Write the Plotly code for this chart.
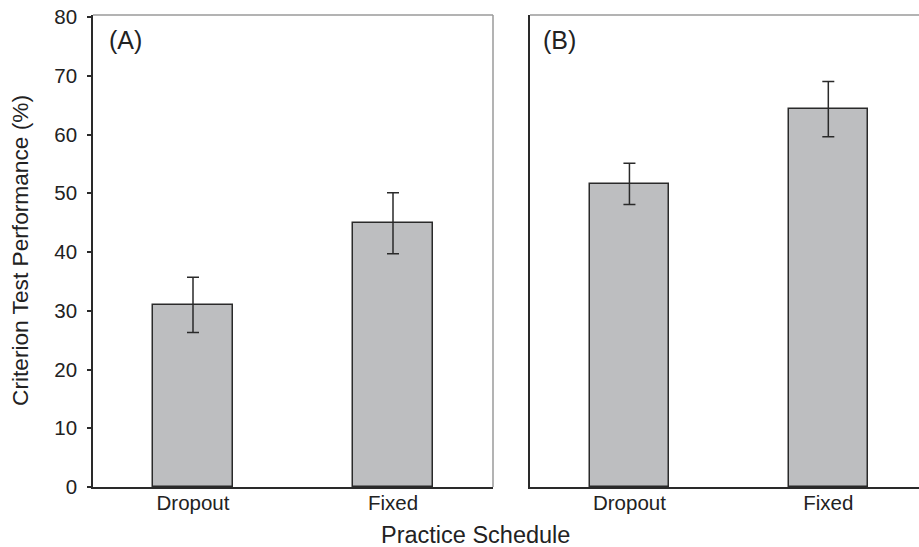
import plotly.graph_objects as go

# Criterion test performance by practice schedule, two experiments
categories = ["Dropout", "Fixed"]
panel_a_mean = [31.0, 44.9]
panel_a_err = [4.7, 5.2]
panel_b_mean = [51.6, 64.3]
panel_b_err = [3.5, 4.7]
y_ticks = [0, 10, 20, 30, 40, 50, 60, 70, 80]

BAR_FILL = "#bdbec0"
INK = "#2a2a2a"
FONT = "Liberation Sans, Arial, sans-serif"

W, H = 919, 547
ML, MR, MT, MB = 93, 0, 15, 60
plot_w = W - ML - MR
a_end = 400 / plot_w
b_start = 437 / plot_w

fig = go.Figure()

for mean, err, xa, ya in [(panel_a_mean, panel_a_err, "x", "y"),
                          (panel_b_mean, panel_b_err, "x2", "y2")]:
    fig.add_trace(go.Bar(
        x=categories, y=mean, xaxis=xa, yaxis=ya, width=0.4,
        marker=dict(color=BAR_FILL, line=dict(color=INK, width=1.5)),
        error_y=dict(type="data", array=err, visible=True,
                     color=INK, thickness=1.5, width=6),
        showlegend=False, hoverinfo="skip",
    ))

yrange = [0, 80.34]
common_x = dict(type="category", showgrid=False, zeroline=False,
                showline=True, linecolor=INK, linewidth=1.5, ticks="",
                ticklabelstandoff=-3,
                tickfont=dict(family=FONT, size=20.5, color="#222"))

fig.update_layout(
    width=W, height=H,
    margin=dict(l=ML, r=MR, t=MT, b=MB),
    paper_bgcolor="white", plot_bgcolor="white",
    bargap=0,
    xaxis=dict(domain=[0, a_end], range=[-0.5, 1.5], anchor="y", **common_x),
    xaxis2=dict(domain=[b_start, 1], range=[-0.5, 1.456], anchor="y2", **common_x),
    yaxis=dict(domain=[0, 1], range=yrange, anchor="x", tickvals=y_ticks,
               showgrid=False, zeroline=False, showline=True,
               linecolor=INK, linewidth=1.5, ticks="outside", ticklen=4,
               tickwidth=1.5, tickcolor=INK, ticklabelstandoff=6,
               tickfont=dict(family=FONT, size=20.5, color="#222")),
    yaxis2=dict(domain=[0, 1], range=yrange, anchor="x2", showgrid=False,
                zeroline=False, showline=True, linecolor=INK, linewidth=1.5,
                showticklabels=False, ticks=""),
    font=dict(family=FONT, color="#222"),
)

# light frame on the top and right edges of each panel
frame = dict(type="line", line=dict(color="#9a9a9a", width=1.5), layer="above")
fig.add_shape(x0=0, x1=1, y0=1, y1=1, xref="x domain", yref="y domain", **frame)
fig.add_shape(x0=1, x1=1, y0=0, y1=1, xref="x domain", yref="y domain", **frame)
fig.add_shape(x0=0, x1=1, y0=1, y1=1, xref="x2 domain", yref="y2 domain", **frame)

# panel letters
fig.add_annotation(text="(A)", x=0.035, y=0.947, xref="x domain", yref="y domain",
                   xanchor="left", yanchor="middle", showarrow=False,
                   font=dict(family=FONT, size=25, color="#222"))
fig.add_annotation(text="(B)", x=0.028, y=0.947, xref="x2 domain", yref="y2 domain",
                   xanchor="left", yanchor="middle", showarrow=False,
                   font=dict(family=FONT, size=25, color="#222"))

# axis titles
fig.add_annotation(text="Criterion Test Performance (%)", x=(20 - ML) / plot_w, y=0.5,
                   xref="paper", yref="paper", textangle=-90, showarrow=False,
                   xanchor="center", yanchor="middle",
                   font=dict(family=FONT, size=22.7, color="#222"))
fig.add_annotation(text="Practice Schedule", x=(475 - ML) / plot_w,
                   y=(H - MB - 535) / (H - MT - MB),
                   xref="paper", yref="paper", showarrow=False,
                   xanchor="center", yanchor="middle",
                   font=dict(family=FONT, size=23.5, color="#222"))

fig.write_html("out.html")
